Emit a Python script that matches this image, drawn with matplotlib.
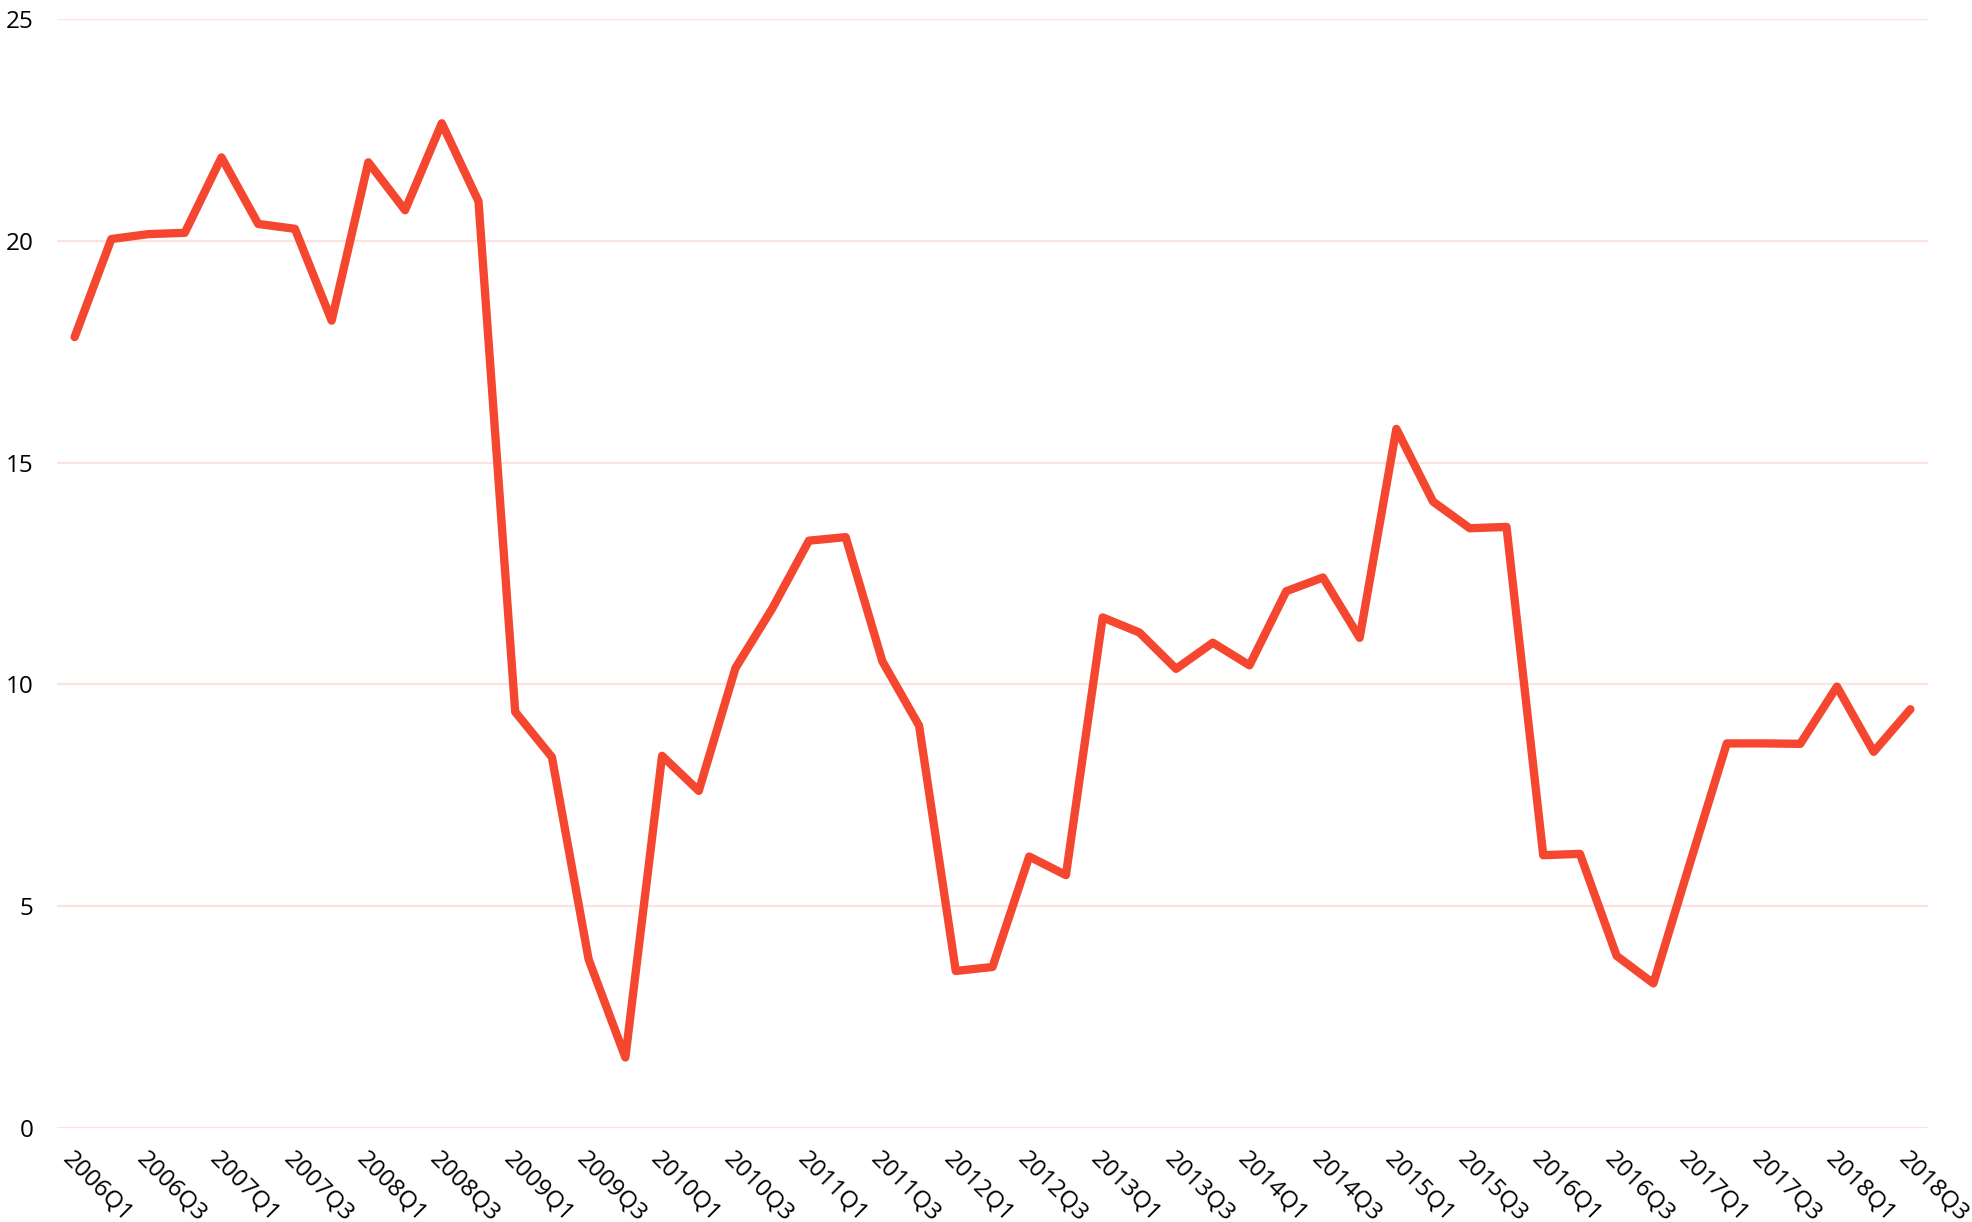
import matplotlib
matplotlib.use("Agg")
import matplotlib.pyplot as plt

plt.rcParams["font.family"] = ["Open Sans", "DejaVu Sans"]

# quarterly series, 2006Q1 .. 2018Q3
quarters = [f"{y}Q{q}" for y in range(2006, 2019) for q in range(1, 5)][:51]
values = [
    17.83, 20.04, 20.15, 20.18, 21.88, 20.38, 20.27, 18.20,
    21.77, 20.69, 22.65, 20.89, 9.38, 8.36, 3.80, 1.59,
    8.39, 7.60, 10.37, 11.71, 13.24, 13.32, 10.52, 9.07,
    3.54, 3.63, 6.12, 5.70, 11.51, 11.17, 10.35, 10.94,
    10.43, 12.10, 12.41, 11.05, 15.76, 14.12, 13.52, 13.55,
    6.15, 6.18, 3.88, 3.26, 5.98, 8.67, 8.67, 8.66,
    9.95, 8.48, 9.44,
]
y_ticks = [0, 5, 10, 15, 20, 25]

fig = plt.figure(figsize=(19.72, 12.22), dpi=100)
ax = fig.add_axes([57 / 1972, 1 - 1128 / 1222, (1928 - 57) / 1972, (1128 - 19) / 1222])

x = list(range(len(values)))
ax.plot(x, values, color="#F5472F", lw=6, solid_capstyle="round",
        solid_joinstyle="round", zorder=3)

ax.set_ylim(0, 25)
ax.set_xlim(-0.48, 50.48)
ax.set_yticks(y_ticks)
ax.set_xticks(x[::2])
ax.set_xticklabels(quarters[::2], rotation=-45, ha="left", va="top",
                   rotation_mode="anchor")
ax.tick_params(axis="both", length=0, labelsize=17.5, colors="black")
ax.tick_params(axis="y", pad=17)
ax.tick_params(axis="x", pad=14)
ax.grid(axis="y", color="#FDE2DF", lw=1.6)
ax.set_axisbelow(True)
for s in ax.spines.values():
    s.set_visible(False)

fig.savefig("out.png", dpi=100)
